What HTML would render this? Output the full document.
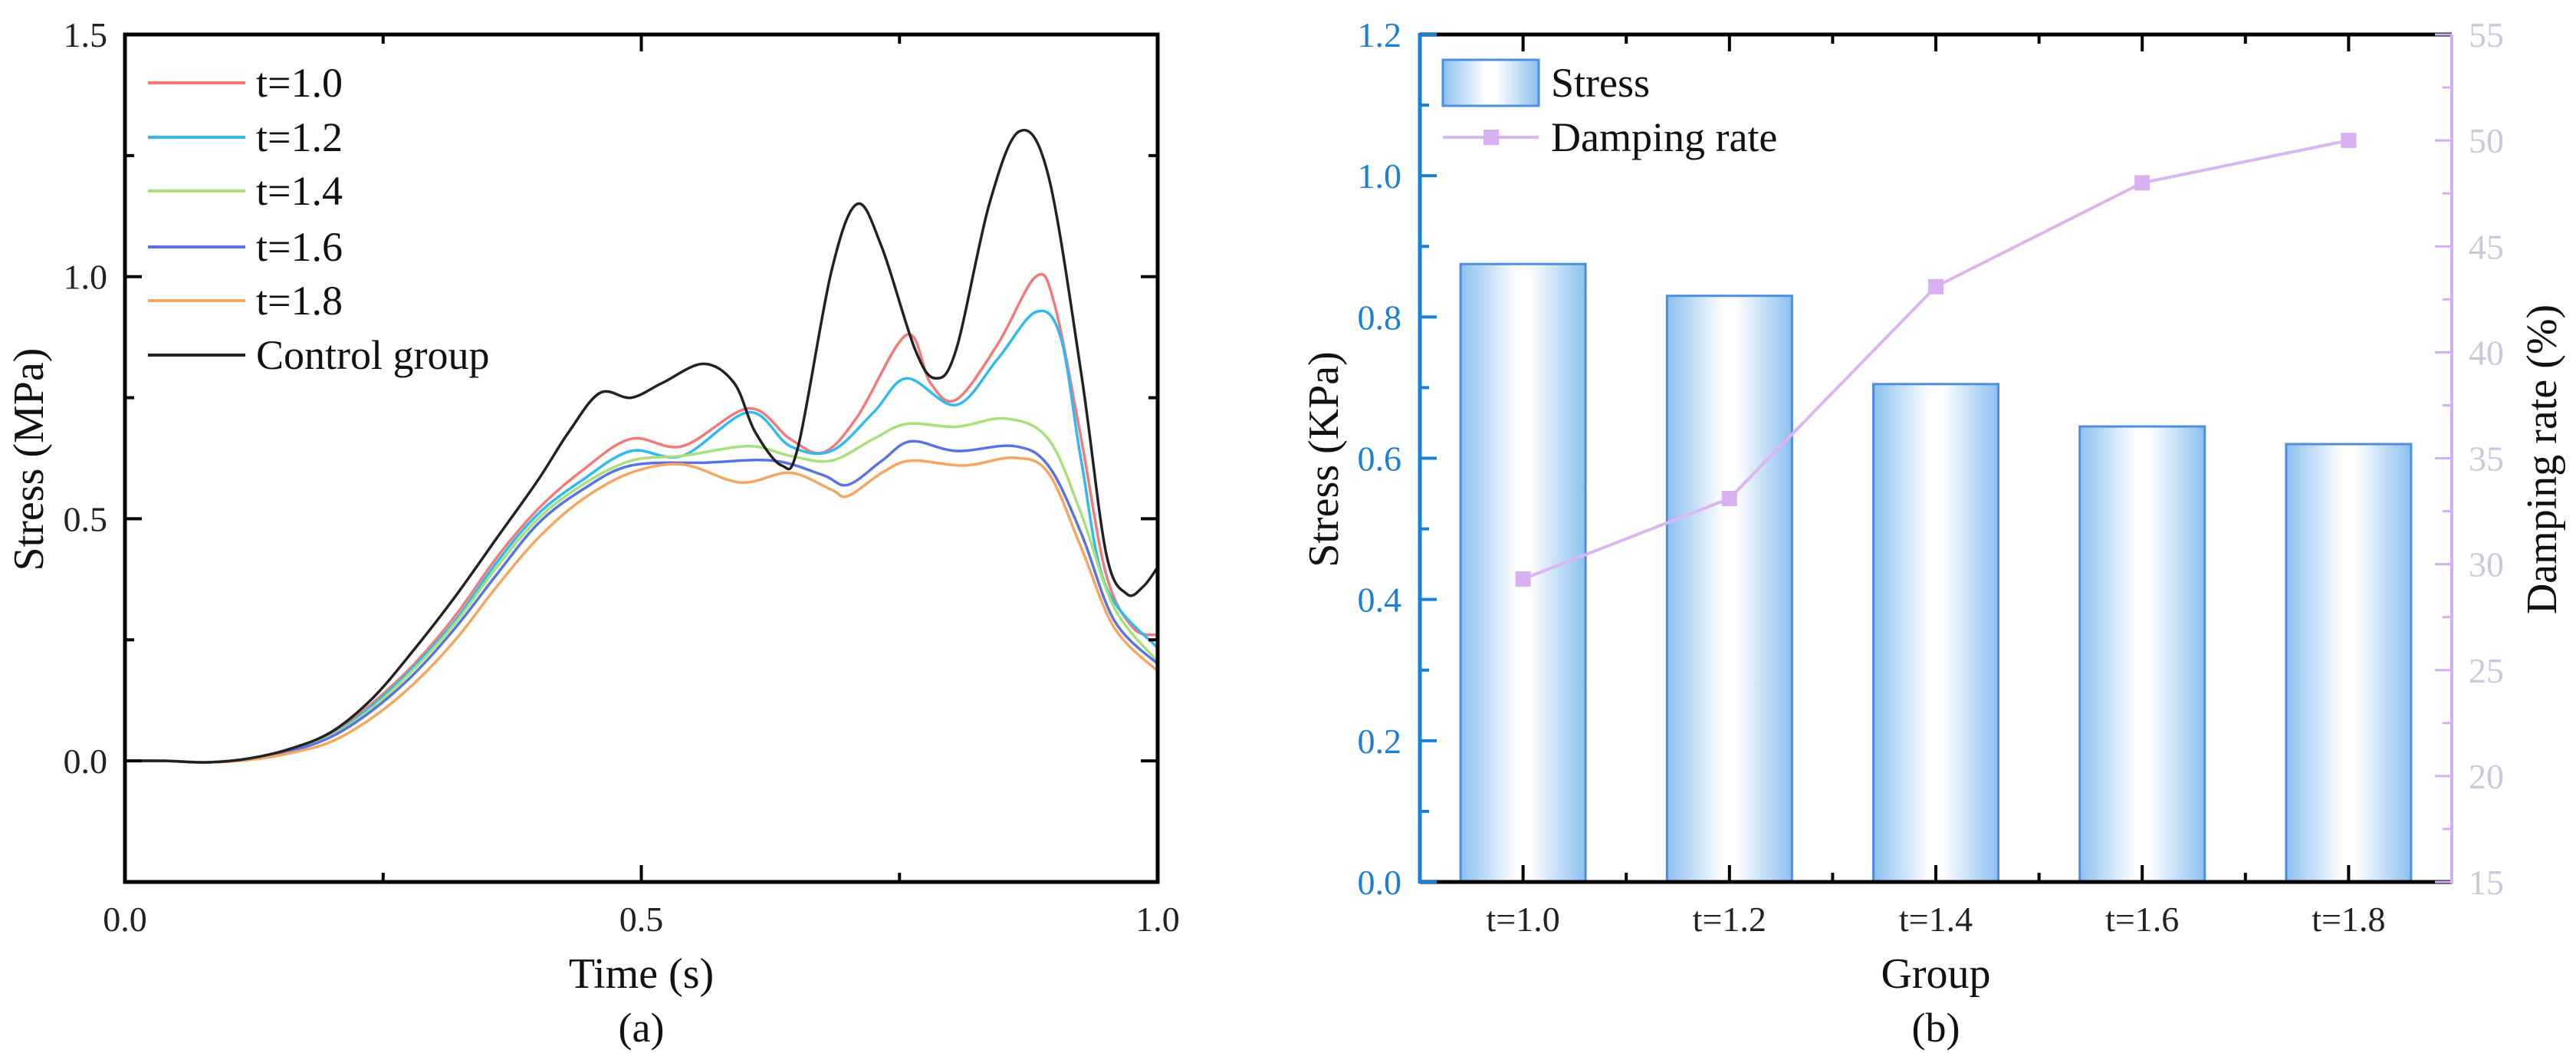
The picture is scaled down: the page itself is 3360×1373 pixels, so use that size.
<!DOCTYPE html>
<html><head><meta charset="utf-8"><style>
html,body{margin:0;padding:0;background:#fff;}
svg{display:block;font-family:"Liberation Serif",serif;}
</style></head><body>
<svg id="fig" width="3360" height="1373" viewBox="0 0 3360 1373" xmlns="http://www.w3.org/2000/svg">
<defs>
<linearGradient id="barGrad" x1="0" x2="1" y1="0" y2="0">
<stop offset="0" stop-color="#8cc0f0"/><stop offset="0.45" stop-color="#ffffff"/><stop offset="0.55" stop-color="#ffffff"/><stop offset="1" stop-color="#8cc0f0"/>
</linearGradient>
</defs>
<g id="panelA"></g>
<g id="panelB"></g>
</svg>
<script>
// ---------- Panel (a) data ----------
const tCtrl = [0,0.04,0.08,0.12,0.16,0.2,0.24,0.28,0.32,0.36,0.40,0.43,0.46,0.49,0.52,0.56,0.59,0.61,0.636,0.652,0.684,0.709,0.733,0.765,0.785,0.805,0.837,0.866,0.894,0.926,0.95,0.97,0.986,1.0];
const vCtrl = [0,0,-0.003,0.005,0.025,0.06,0.13,0.23,0.34,0.46,0.58,0.68,0.76,0.75,0.78,0.82,0.78,0.68,0.61,0.65,1.01,1.15,1.06,0.85,0.79,0.85,1.15,1.30,1.21,0.80,0.43,0.345,0.36,0.40];
const tR10 = [0,0.04,0.08,0.12,0.16,0.2,0.24,0.28,0.32,0.36,0.40,0.443,0.49,0.54,0.604,0.644,0.676,0.709,0.757,0.78,0.805,0.845,0.882,0.9,0.926,0.95,0.976,1.0];
const vR10 = [0,0,-0.003,0.004,0.022,0.055,0.12,0.2,0.3,0.42,0.52,0.6,0.665,0.65,0.728,0.665,0.637,0.71,0.88,0.78,0.746,0.86,1.0,0.944,0.665,0.386,0.275,0.26];
const tR12 = [0,0.04,0.08,0.12,0.16,0.2,0.24,0.28,0.32,0.36,0.40,0.443,0.49,0.54,0.604,0.644,0.684,0.725,0.757,0.805,0.845,0.882,0.906,0.926,0.95,1.0];
const vR12 = [0,0,-0.003,0.004,0.022,0.053,0.115,0.195,0.29,0.41,0.51,0.58,0.64,0.63,0.72,0.65,0.64,0.72,0.79,0.735,0.83,0.927,0.875,0.62,0.36,0.233];
const tR14 = [0,0.04,0.08,0.12,0.16,0.2,0.24,0.28,0.32,0.36,0.40,0.443,0.49,0.54,0.604,0.644,0.684,0.725,0.757,0.805,0.853,0.894,0.926,0.958,1.0];
const vR14 = [0,0,-0.003,0.004,0.021,0.052,0.11,0.19,0.285,0.4,0.5,0.57,0.62,0.63,0.65,0.63,0.62,0.665,0.696,0.69,0.707,0.665,0.51,0.316,0.205];
const tR16 = [0,0.04,0.08,0.12,0.16,0.2,0.24,0.28,0.32,0.36,0.40,0.443,0.49,0.563,0.628,0.676,0.7,0.733,0.761,0.805,0.861,0.894,0.926,0.958,1.0];
const vR16 = [0,0,-0.003,0.003,0.02,0.05,0.105,0.18,0.275,0.385,0.49,0.56,0.61,0.616,0.62,0.59,0.57,0.62,0.66,0.64,0.65,0.61,0.47,0.29,0.2];
const tR18 = [0,0.04,0.08,0.12,0.16,0.2,0.24,0.28,0.32,0.36,0.40,0.443,0.49,0.54,0.596,0.644,0.684,0.7,0.733,0.761,0.813,0.861,0.894,0.926,0.958,1.0];
const vR18 = [0,0,-0.003,0.002,0.016,0.04,0.09,0.16,0.25,0.36,0.46,0.54,0.595,0.612,0.575,0.595,0.56,0.547,0.595,0.62,0.61,0.626,0.595,0.44,0.275,0.185];
const seriesNames = ["t=1.0","t=1.2","t=1.4","t=1.6","t=1.8","Control group"];
const xTicksA = [0,0.5,1.0];
const xTickLabelsA = ["0.0","0.5","1.0"];
const yTicksA = [0,0.5,1.0,1.5];
const yTickLabelsA = ["0.0","0.5","1.0","1.5"];

// ---------- Panel (b) data ----------
const groups = ["t=1.0","t=1.2","t=1.4","t=1.6","t=1.8"];
const stressVals = [0.875,0.83,0.705,0.645,0.62];
const dampVals = [29.3,33.1,43.1,48.0,50.0];
const yTicksB = [0,0.2,0.4,0.6,0.8,1.0,1.2];
const yTickLabelsB = ["0.0","0.2","0.4","0.6","0.8","1.0","1.2"];
const y2Ticks = [15,20,25,30,35,40,45,50,55];
const y2TickLabels = ["15","20","25","30","35","40","45","50","55"];

const NS="http://www.w3.org/2000/svg";
function mk(parent,tag,attrs,text){const e=document.createElementNS(NS,tag);for(const k in attrs)e.setAttribute(k,attrs[k]);if(text!==undefined)e.textContent=text;parent.appendChild(e);return e;}
function smooth(pts){let d="M"+pts[0][0].toFixed(1)+","+pts[0][1].toFixed(1);for(let i=0;i<pts.length-1;i++){const p0=pts[i-1]||pts[i],p1=pts[i],p2=pts[i+1],p3=pts[i+2]||p2;const c1=[p1[0]+(p2[0]-p0[0])/6,p1[1]+(p2[1]-p0[1])/6],c2=[p2[0]-(p3[0]-p1[0])/6,p2[1]-(p3[1]-p1[1])/6];d+="C"+c1[0].toFixed(1)+","+c1[1].toFixed(1)+" "+c2[0].toFixed(1)+","+c2[1].toFixed(1)+" "+p2[0].toFixed(1)+","+p2[1].toFixed(1);}return d;}

// ---------- Panel (a) ----------
const A=document.getElementById("panelA");
const aL=163,aR=1510,aT=45,aB=1150,yMinA=-0.25,yMaxA=1.5;
const xA=v=>aL+v*(aR-aL);
const yA=v=>aB-(v-yMinA)/(yMaxA-yMinA)*(aB-aT);
const clipA=mk(A,"clipPath",{id:"clipA"});mk(clipA,"rect",{x:aL,y:aT,width:aR-aL,height:aB-aT});
const colors=["#f47a7a","#2fbbf0","#a8e07c","#5b73e2","#f7a660","#222222"];
const tArrs=[tR10,tR12,tR14,tR16,tR18,tCtrl],vArrs=[vR10,vR12,vR14,vR16,vR18,vCtrl];
const lineG=mk(A,"g",{"clip-path":"url(#clipA)"});
for(let s=0;s<6;s++){
  const pts=tArrs[s].map((t,i)=>[xA(t),yA(vArrs[s][i])]);
  const p=mk(lineG,"path",{d:smooth(pts),fill:"none",stroke:colors[s],"stroke-width":3.5,"stroke-linejoin":"round"});
  
  
}
const frameA=mk(A,"rect",{x:aL,y:aT,width:aR-aL,height:aB-aT,fill:"none",stroke:"#000","stroke-width":5});

[0.25,0.5,0.75].forEach((t,i)=>{const len=i===1?22:12;mk(A,"line",{x1:xA(t),x2:xA(t),y1:aB,y2:aB-len,stroke:"#000","stroke-width":4});mk(A,"line",{x1:xA(t),x2:xA(t),y1:aT,y2:aT+len,stroke:"#000","stroke-width":4});});
[0,0.25,0.5,0.75,1.0,1.25].forEach((v,i)=>{const len=(i%2===0)?22:12;mk(A,"line",{x1:aL,x2:aL+len,y1:yA(v),y2:yA(v),stroke:"#000","stroke-width":4});mk(A,"line",{x1:aR,x2:aR-len,y1:yA(v),y2:yA(v),stroke:"#000","stroke-width":4});});
xTicksA.forEach((v,i)=>{const t=mk(A,"text",{x:xA(v),y:1214,"font-size":46,"text-anchor":"middle",fill:"#222"},xTickLabelsA[i]);});
yTicksA.forEach((v,i)=>{const t=mk(A,"text",{x:140,y:yA(v)+16,"font-size":46,"text-anchor":"end",fill:"#222"},yTickLabelsA[i]);});
let tt=mk(A,"text",{x:xA(0.5),y:1288,"font-size":56,"text-anchor":"middle",fill:"#111"},"Time (s)");
tt=mk(A,"text",{x:0,y:0,"font-size":56,"text-anchor":"middle",fill:"#111",transform:"translate(56,599) rotate(-90)"},"Stress (MPa)");
tt=mk(A,"text",{x:xA(0.5),y:1358,"font-size":54,"text-anchor":"middle",fill:"#111"},"(a)");
const legRows=[108,179,249,322,392,463];
for(let s=0;s<6;s++){
  const g=mk(A,"g",{});
  mk(g,"line",{x1:193,x2:320,y1:legRows[s],y2:legRows[s],stroke:colors[s],"stroke-width":4});
  mk(g,"text",{x:334,y:legRows[s]+18,"font-size":54,fill:"#111"},seriesNames[s]);
}

// ---------- Panel (b) ----------
const B=document.getElementById("panelB");
const bL=1852,bR=3198,bT=45,bB=1150;
const xB=i=>bL+(i+0.5)/groups.length*(bR-bL);
const yB=v=>bB-v/1.2*(bB-bT);
const y2=v=>bB-(v-15)/40*(bB-bT);
const barW=163;
stressVals.forEach((v,i)=>{
  const r=mk(B,"rect",{x:xB(i)-barW/2,y:yB(v),width:barW,height:bB-yB(v),fill:"url(#barGrad)",stroke:"#4d8fdc","stroke-width":3});
  
  
});
const dpts=dampVals.map((v,i)=>[xB(i),y2(v)]);
const dl=mk(B,"polyline",{points:dpts.map(p=>p.join(",")).join(" "),fill:"none",stroke:"#dcb6f2","stroke-width":4});

dpts.forEach(p=>{const m=mk(B,"rect",{x:p[0]-10,y:p[1]-10,width:20,height:20,fill:"#d9b0f2"});});
// axes
mk(B,"line",{x1:bL,x2:bR,y1:bT,y2:bT,stroke:"#000","stroke-width":5});
mk(B,"line",{x1:bL,x2:bR,y1:bB,y2:bB,stroke:"#000","stroke-width":5});
const la=mk(B,"line",{x1:bL,x2:bL,y1:bT-2,y2:bB+2,stroke:"#1b7fd8","stroke-width":5});
const ra=mk(B,"line",{x1:bR,x2:bR,y1:bT,y2:bB+2,stroke:"#d6aef6","stroke-width":4});
for(let k=0;k<=10;k++){const x=bL+k/10*(bR-bL);if(k===0||k===10)continue;const len=k%2?22:12;mk(B,"line",{x1:x,x2:x,y1:bB,y2:bB-len,stroke:"#000","stroke-width":4});mk(B,"line",{x1:x,x2:x,y1:bT,y2:bT+len,stroke:"#000","stroke-width":4});}
for(let k=0;k<=12;k++){const v=k*0.1;const len=k%2?12:22;mk(B,"line",{x1:bL,x2:bL+len,y1:yB(v),y2:yB(v),stroke:"#1b7fd8","stroke-width":4});}
for(let k=0;k<=16;k++){const v=15+k*2.5;const len=k%2?12:22;mk(B,"line",{x1:bR,x2:bR-len,y1:y2(v),y2:y2(v),stroke:"#d6aef6","stroke-width":3});}
yTicksB.forEach((v,i)=>{const t=mk(B,"text",{x:1828,y:yB(v)+16,"font-size":46,"text-anchor":"end",fill:"#1b7fd8"},yTickLabelsB[i]);});
y2Ticks.forEach((v,i)=>{const t=mk(B,"text",{x:3220,y:y2(v)+16,"font-size":46,fill:"#cfc6dc"},y2TickLabels[i]);});
groups.forEach((g,i)=>{const t=mk(B,"text",{x:xB(i),y:1214,"font-size":46,"text-anchor":"middle",fill:"#222"},g);});
tt=mk(B,"text",{x:xB(2),y:1288,"font-size":56,"text-anchor":"middle",fill:"#111"},"Group");
tt=mk(B,"text",{x:xB(2),y:1358,"font-size":54,"text-anchor":"middle",fill:"#111"},"(b)");
tt=mk(B,"text",{x:0,y:0,"font-size":56,"text-anchor":"middle",fill:"#111",transform:"translate(1745,599) rotate(-90)"},"Stress (KPa)");
tt=mk(B,"text",{x:0,y:0,"font-size":56,"text-anchor":"middle",fill:"#111",transform:"translate(3334,599) rotate(-90)"},"Damping rate (%)");
let lg=mk(B,"g",{});
mk(lg,"rect",{x:1882,y:78,width:125,height:60,fill:"url(#barGrad)",stroke:"#4d8fdc","stroke-width":3});
mk(lg,"text",{x:2023,y:126,"font-size":54,fill:"#111"},"Stress");
lg=mk(B,"g",{});
mk(lg,"line",{x1:1882,x2:2007,y1:179,y2:179,stroke:"#dcb6f2","stroke-width":4});
mk(lg,"rect",{x:1935,y:169,width:20,height:20,fill:"#d9b0f2"});
mk(lg,"text",{x:2023,y:197,"font-size":54,fill:"#111"},"Damping rate");
</script>
</body></html>
